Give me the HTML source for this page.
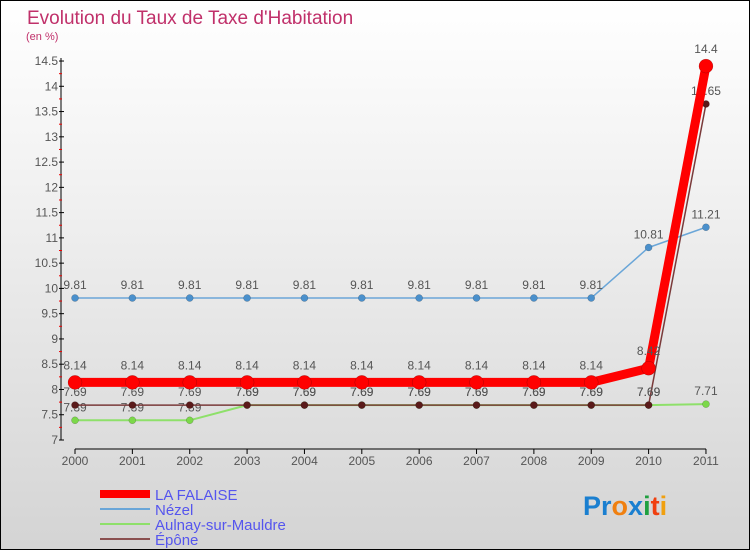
<!DOCTYPE html>
<html><head><meta charset="utf-8"><style>
body{margin:0}
#c{width:750px;height:550px;position:relative;box-sizing:border-box;border:1px solid #000;background:linear-gradient(#fff,#f3f3f3 30%,#d4d4d4);font-family:"Liberation Sans",sans-serif;overflow:hidden}
</style></head><body>
<div id="c">
<svg id="s" width="750" height="550" style="position:absolute;left:-1px;top:-1px"></svg>
</div>
<script>
const years=[2000,2001,2002,2003,2004,2005,2006,2007,2008,2009,2010,2011];
const falaise=[8.14,8.14,8.14,8.14,8.14,8.14,8.14,8.14,8.14,8.14,8.42,14.4];
const nezel=[9.81,9.81,9.81,9.81,9.81,9.81,9.81,9.81,9.81,9.81,10.81,11.21];
const aulnay=[7.39,7.39,7.39,7.69,7.69,7.69,7.69,7.69,7.69,7.69,7.69,7.71];
const epone=[7.69,7.69,7.69,7.69,7.69,7.69,7.69,7.69,7.69,7.69,7.69,13.65];
const yTicks=[7,7.5,8,8.5,9,9.5,10,10.5,11,11.5,12,12.5,13,13.5,14,14.5];
const yLabels=["7","7.5","8","8.5","9","9.5","10","10.5","11","11.5","12","12.5","13","13.5","14","14.5"];
const NS="http://www.w3.org/2000/svg",s=document.getElementById('s');
const X=i=>75+i*57.36, Y=v=>440-(v-7)*50.53;
function el(t,a,p){const e=document.createElementNS(NS,t);for(const k in a)e.setAttribute(k,a[k]);(p||s).appendChild(e);return e;}
function tx(x,y,str,a){const e=el('text',Object.assign({x:x,y:y,'font-size':12,fill:'#444','font-family':'Liberation Sans, sans-serif'},a||{}));e.textContent=str;return e;}
let t=tx(27,24,"Evolution du Taux de Taxe d'Habitation",{'font-size':19,fill:'#c0306a'});

t=tx(26,40,"(en %)",{'font-size':11,fill:'#c0306a'});

let ax=el('line',{x1:61,y1:58,x2:61,y2:440,stroke:'#000'});

yTicks.forEach((v,i)=>{el('line',{x1:59,x2:64,y1:Y(v),y2:Y(v),stroke:'#000'});
 if(i<yTicks.length-1)el('line',{x1:59,x2:62,y1:Y(v+0.25),y2:Y(v+0.25),stroke:'#e00'});
 const l=tx(58,Y(v)+4,yLabels[i],{'text-anchor':'end',fill:'#555'});
 });
ax=el('line',{x1:75,y1:449,x2:706,y2:449,stroke:'#000'});

years.forEach((y,i)=>{el('line',{x1:X(i),x2:X(i),y1:449,y2:454,stroke:'#000'});
 const l=tx(X(i),465,String(y),{'text-anchor':'middle',fill:'#555'});
 });
function series(d,col,w,r,name,dot,lab,dy){
 const g=el('g',{});
 el('polyline',{points:d.map((v,i)=>X(i)+','+Y(v)).join(' '),fill:'none',stroke:col,'stroke-width':w,'stroke-linejoin':'round'},g);
 d.forEach((v,i)=>{const c=el('circle',{cx:X(i),cy:Y(v),r:r,fill:dot,stroke:'rgba(0,0,0,0.3)','stroke-width':0.5},g);
  
  tx(X(i),Y(v)-dy,String(v),{'text-anchor':'middle',fill:lab,'font-size':12},g);});
}
series(aulnay,'#8ee06a',2,3.5,'aulnay-series','#7cd84a','#555',9);
series(nezel,'#6aa6d8',1.5,3.5,'nezel-series','#4a90cc','#555',9);
series(epone,'#7a3a3a',1.5,3.5,'epone-series','#5a1a1a','#555',9);
series(falaise,'#f00',9,7,'falaise-series','#f00','#555',13);
const leg=[['LA FALAISE','#f00',8],['Nézel','#6aa6d8',2],['Aulnay-sur-Mauldre','#8ee06a',2],['Épône','#8a5050',2]];
leg.forEach((l,i)=>{const y=494+i*15;const g=el('g',{});
 
 el('line',{x1:100,x2:150,y1:y,y2:y,stroke:l[1],'stroke-width':l[2]},g);
 tx(155,y+6,l[0],{fill:'#5555ee','font-size':15},g);});
const lg=el('text',{x:583,y:515,'font-size':27,'font-weight':'bold','font-family':'Liberation Sans, sans-serif'});

[['P','#1a7fd0'],['r','#1a7fd0'],['o','#f08010'],['x','#1a7fd0'],['i','#20a040'],['t','#f04010'],['i','#f0a010']].forEach(c=>{const sp=el('tspan',{fill:c[1]},lg);sp.textContent=c[0];});
</script>
</body></html>
